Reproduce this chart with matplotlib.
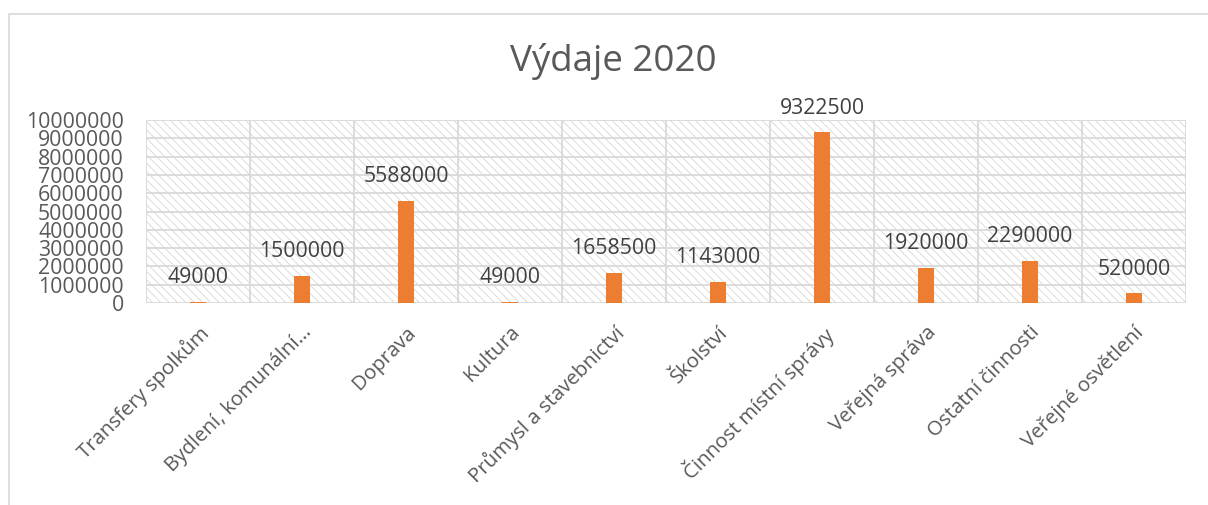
import matplotlib.pyplot as plt
from matplotlib.patches import Rectangle

categories = ["Transfery spolkům", "Bydlení, komunální…", "Doprava", "Kultura",
              "Průmysl a stavebnictví", "Školství", "Činnost místní správy",
              "Veřejná správa", "Ostatní činnosti", "Veřejné osvětlení"]
values = [49000, 1500000, 5588000, 49000, 1658500, 1143000, 9322500,
          1920000, 2290000, 520000]
yticks = list(range(0, 10000001, 1000000))

plt.rcParams['font.family'] = ['Open Sans', 'DejaVu Sans']
text_col = "#595959"
grid_col = "#d9d9d9"

fig = plt.figure(figsize=(12.08, 5.05), dpi=100)
ax = fig.add_axes([146 / 1208, 1 - 303 / 505, 1040 / 1208, 183 / 505])

# outer frame of the chart
fig.patches.append(Rectangle((9 / 1208, -0.1), 1.2, 1 - 14 / 505 + 0.1,
                             transform=fig.transFigure, fill=False,
                             edgecolor=grid_col, linewidth=1.2))

# hatched plot area
plt.rcParams['hatch.linewidth'] = 0.6
ax.add_patch(Rectangle((0, 0), 1, 1, transform=ax.transAxes, facecolor="white",
                       edgecolor="#d6d6d6", hatch="\\\\\\\\", linewidth=0, zorder=0))

x = list(range(len(categories)))
ax.bar(x, values, width=0.15, color="#ED7D31", zorder=3)
for xi, v in zip(x, values):
    ax.text(xi, v + 750000, str(v), ha="center", va="bottom", fontsize=15.3,
            color="#404040", zorder=4)

ax.set_xlim(-0.5, len(categories) - 0.5)
ax.set_ylim(0, 10000000)
ax.set_yticks(yticks)
ax.set_yticklabels([str(t) for t in yticks], fontsize=15.3, color=text_col)
ax.set_xticks(x)
ax.set_xticklabels(categories, rotation=45, ha="right", rotation_mode="anchor",
                   fontsize=14.7, color=text_col)
ax.tick_params(axis="y", length=0, pad=16)
ax.tick_params(axis="x", length=0, pad=14)

for t in yticks:
    ax.axhline(t, color=grid_col, linewidth=1.3, zorder=1)
for b in range(len(categories) + 1):
    ax.axvline(b - 0.5, color=grid_col, linewidth=1.3, zorder=1)
for s in ax.spines.values():
    s.set_visible(False)

fig.text(0.508, 1 - 62 / 505, "Výdaje 2020", ha="center", va="center",
         fontsize=26.5, color=text_col)

fig.savefig("out.png", dpi=100)
